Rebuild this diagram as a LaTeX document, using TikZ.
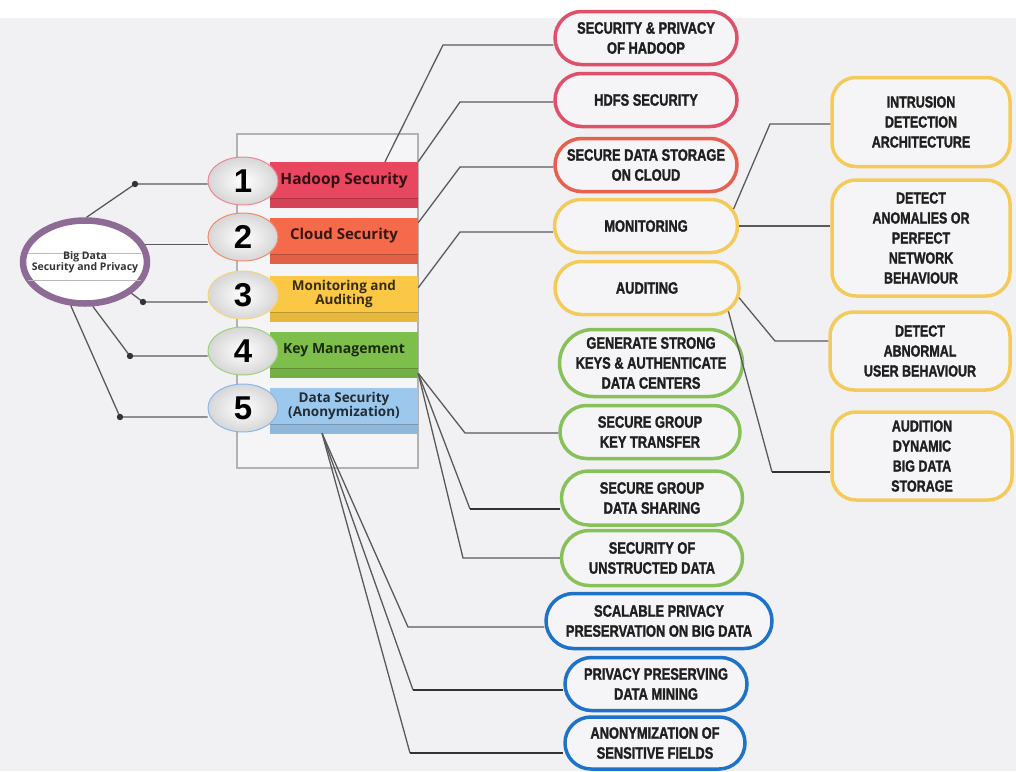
\documentclass[tikz,border=0pt]{standalone}
\usepackage{fontspec}
\usetikzlibrary{calc,shapes.geometric,shapes.misc,positioning}
\newfontfamily\pillfont[FakeStretch=0.78, BoldFeatures={FakeBold=1.5}]{Liberation Sans}
\newfontfamily\bandfont{Open Sans}
\newfontfamily\numfont{Liberation Sans}
\definecolor{bggray}{HTML}{F1F1F3}
\definecolor{pillfill}{HTML}{F5F5F7}
\definecolor{linegray}{HTML}{5A5A5A}
\definecolor{ringpurple}{HTML}{8E6B94}
\definecolor{bandred}{HTML}{E8475F}
\definecolor{bandorange}{HTML}{F46A4B}
\definecolor{bandyellow}{HTML}{FAC844}
\definecolor{bandgreen}{HTML}{7DBF4A}
\definecolor{bandblue}{HTML}{9DC8EE}
\definecolor{ballred}{HTML}{E88A98}
\definecolor{ballorange}{HTML}{F08A70}
\definecolor{ballyellow}{HTML}{F5D580}
\definecolor{ballgreen}{HTML}{A0D080}
\definecolor{ballblue}{HTML}{8AB8E8}
\definecolor{pillred}{HTML}{E0506A}
\definecolor{pillorange}{HTML}{E8604F}
\definecolor{pillyellow}{HTML}{F4CB5A}
\definecolor{pillgreen}{HTML}{88C05A}
\definecolor{pillblue}{HTML}{1E73C8}
\tikzset{
	link/.style={draw=linegray, line width=1.3pt},
	heavylink/.style={draw=black!80, line width=2.4pt},
	band/.style={rectangle, minimum width=148pt, minimum height=36pt, inner sep=0pt, align=center},
	numball/.style={ellipse, minimum width=70pt, minimum height=48pt, inner sep=0pt, line width=1pt,
		inner color=white, outer color=gray!32, font=\numfont\bfseries\fontsize{33}{33}\selectfont},
	pill/.style={rounded rectangle, draw, line width=3.5pt, fill=pillfill, inner sep=0pt, align=center,
		text=black!88, font=\pillfont\bfseries\fontsize{16.5}{20}\selectfont},
	sidebox/.style={rectangle, rounded corners=24pt, draw=pillyellow, line width=3.5pt, fill=pillfill,
		inner sep=0pt, align=center, text=black!88, font=\pillfont\bfseries\fontsize{16}{20}\selectfont}
}
\begin{document}
\begin{tikzpicture}[x=1pt, y=-1pt]
	\useasboundingbox (0,0) rectangle (1016,771);
	\fill[white] (0,0) rectangle (1016,18);
	\fill[bggray] (0,18) rectangle (1016,771);
	\draw[gray!60, fill=pillfill, line width=1.2pt] (237,134) rectangle (418,468);
	\foreach \i/\yc/\col/\fs/\txt in {1/180/bandred/15.5/{Hadoop Security},
		2/236/bandorange/15/{Cloud Security},
		3/294/bandyellow/13.5/{Monitoring and\\Auditing},
		4/350/bandgreen/14/{Key Management},
		5/406/bandblue/13.5/{Data Security\\(Anonymization)}} {
		\node[band, fill=\col, text=\col!22!black, font=\bandfont\bfseries\fontsize{\fs}{13}\selectfont]
			(b\i) at (344,\yc) {\txt};
		\fill[\col!92!black] (b\i.south west) rectangle ($(b\i.south east)+(0,10)$);
		\draw[\col!75!black, line width=0.6pt] (b\i.south west) -- (b\i.south east);
	}
	\foreach \i/\yc/\col in {1/181/ballred,2/237/ballorange,3/295/ballyellow,4/351/ballgreen,5/408/ballblue}
		\node[numball, draw=\col] (n\i) at (243,\yc) {\i};

	\node[ellipse, draw=ringpurple, line width=6.5pt, fill=white, minimum width=124pt, minimum height=83pt,
		inner sep=0pt] (hub) at (85,262) {};
	\draw[gray!55, line width=0.6pt] (28,253) -- (141,253);
	\draw[gray!55, line width=0.6pt] (28,280) -- (141,280);
	\node[align=center, inner sep=0pt, text=black!80, font=\bandfont\bfseries\fontsize{10.5}{11}\selectfont]
		(hublabel) at (hub.center) {Big Data\\Security and Privacy};

	\coordinate (d1) at (135,184);
	\coordinate (d3) at (143,302);
	\coordinate (d4) at (130,356);
	\coordinate (d5) at (120,417);
	\draw[link] (hub.88) -- (d1) -- (d1 -| n1.west);
	\draw[link] (hub.16) -- (hub.16 -| n2.west);
	\draw[link] (hub.-34) -- (d3) -- (d3 -| n3.west);
	\draw[link] (hub.-80) -- (d4) -- (d4 -| n4.west);
	\draw[link] (hub.-108) -- (d5) -- (d5 -| n5.west);
	\foreach \d in {d1,d3,d4,d5}
		\fill[black!80] (\d) circle (3.2pt);

	\node[pill, draw=pillred, minimum width=182pt, minimum height=53pt] (p1) at (646,38) {SECURITY \& PRIVACY\\OF HADOOP};
	\node[pill, draw=pillred, minimum width=182pt, minimum height=53pt] (p2) at (646,100) {HDFS SECURITY};
	\node[pill, draw=pillorange, minimum width=182pt, minimum height=53pt] (p3) at (646,165) {SECURE DATA STORAGE\\ON CLOUD};
	\node[pill, draw=pillyellow, minimum width=183pt, minimum height=53pt] (p4) at (646,226) {MONITORING};
	\node[pill, draw=pillyellow, minimum width=184pt, minimum height=53pt] (p5) at (647,288) {AUDITING};
	\node[pill, draw=pillgreen, minimum width=183pt, minimum height=67pt] (p6) at (651,363) {GENERATE STRONG\\KEYS \& AUTHENTICATE\\DATA CENTERS};
	\node[pill, draw=pillgreen, minimum width=180pt, minimum height=53pt] (p7) at (650,432) {SECURE GROUP\\KEY TRANSFER};
	\node[pill, draw=pillgreen, minimum width=181pt, minimum height=54pt] (p8) at (652,498) {SECURE GROUP\\DATA SHARING};
	\node[pill, draw=pillgreen, minimum width=181pt, minimum height=55pt] (p9) at (652,558) {SECURITY OF\\UNSTRUCTED DATA};
	\node[pill, draw=pillblue, minimum width=226pt, minimum height=55pt] (p10) at (659,621) {SCALABLE PRIVACY\\PRESERVATION ON BIG DATA};
	\node[pill, draw=pillblue, minimum width=182pt, minimum height=53pt] (p11) at (656,684) {PRIVACY PRESERVING\\DATA MINING};
	\node[pill, draw=pillblue, minimum width=180pt, minimum height=52pt] (p12) at (655,743) {ANONYMIZATION OF\\SENSITIVE FIELDS};

	\node[sidebox, minimum width=178pt, minimum height=89pt] (r1) at (921,122) {INTRUSION\\DETECTION\\ARCHITECTURE};
	\node[sidebox, minimum width=178pt, minimum height=116pt] (r2) at (921,238) {DETECT\\ANOMALIES OR\\PERFECT\\NETWORK\\BEHAVIOUR};
	\node[sidebox, minimum width=180pt, minimum height=78pt] (r3) at (920,351) {DETECT\\ABNORMAL\\USER BEHAVIOUR};
	\node[sidebox, minimum width=180pt, minimum height=88pt] (r4) at (922,456) {AUDITION\\DYNAMIC\\BIG DATA\\STORAGE};

	\coordinate (k1) at (443,45);
	\coordinate (k2) at (460,102);
	\coordinate (k3) at (460,167);
	\coordinate (k4) at (460,232);
	\coordinate (k7) at (465,433);
	\coordinate (k8) at (470,509);
	\coordinate (k9) at (463,558);
	\coordinate (k10) at (408,627);
	\coordinate (k11) at (413,690);
	\coordinate (k12) at (410,753);
	\coordinate (s4) at ($(b4.south east)+(0,5)$);
	\coordinate (s5) at ($(b5.south)+(-22,9)$);
	\draw[link] ([xshift=41pt]b1.north) -- (k1) -- (k1 -| p1.west);
	\draw[link] (b1.north east) -- (k2) -- (k2 -| p2.west);
	\draw[link] ($(b2.north east)+(0,5)$) -- (k3) -- (k3 -| p3.west);
	\draw[link] ($(b3.north east)+(0,12)$) -- (k4) -- (k4 -| p4.west);
	\draw[link] ($(b3.east)+(0,7)$) -- ($(b3.east)+(0,7)$ -| p5.west);
	\draw[heavylink, line width=1.8pt] ($(b4.east)+(0,7)$) -- ($(b4.east)+(0,7)$ -| p6.west);
	\draw[link] (s4) -- (k7) -- (k7 -| p7.west);
	\draw[link] (s4) -- (k8);
	\draw[heavylink, line width=1.8pt] (k8) -- (k8 -| p8.west);
	\draw[link] (s4) -- (k9) -- (k9 -| p9.west);
	\draw[link] (s5) -- (k10) -- (k10 -| p10.west);
	\draw[link] (s5) -- (k11);
	\draw[heavylink] (k11) -- (k11 -| p11.west);
	\draw[link] (s5) -- (k12);
	\draw[heavylink] (k12) -- (k12 -| p12.west);

	\coordinate (m1) at (770,124);
	\coordinate (m3) at (775,341);
	\coordinate (m4) at (772,472);
	\draw[link] (p4.11) -- (m1) -- (m1 -| r1.west);
	\draw[link] (p4.east) -- (p4.east -| r2.west);
	\draw[link] (p5.-6) -- (m3) -- (m3 -| r3.west);
	\draw[link] (p5.-16) -- (m4);
	\draw[heavylink, line width=1.8pt] (m4) -- (m4 -| r4.west);
\end{tikzpicture}
\end{document}
